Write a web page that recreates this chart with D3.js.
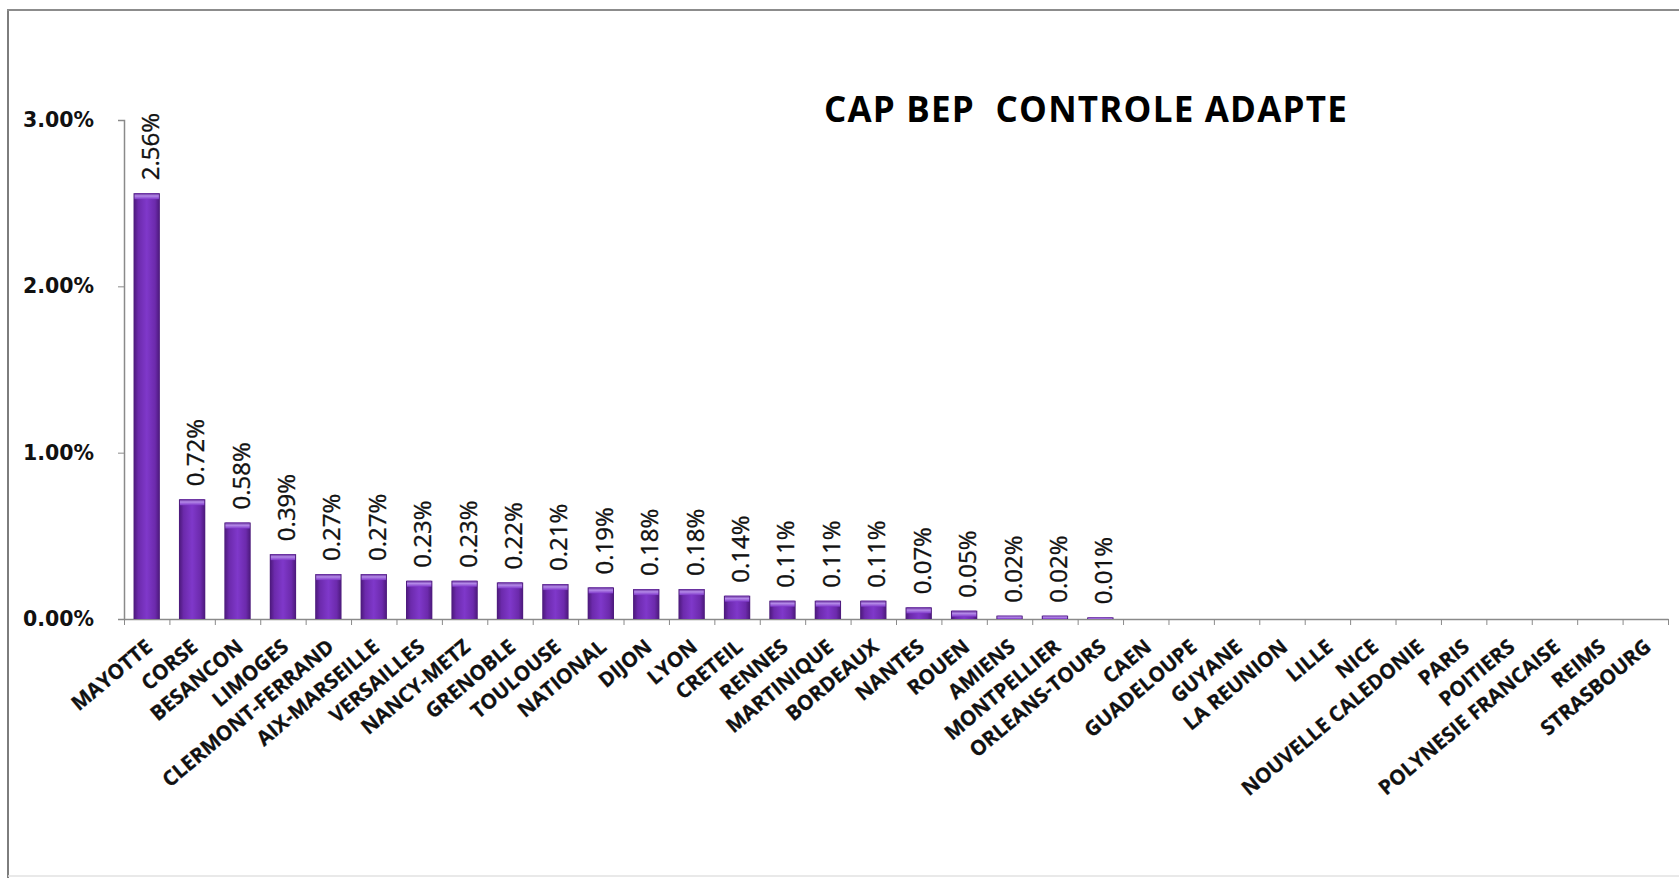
<!DOCTYPE html>
<html>
<head>
<meta charset="utf-8">
<script src="https://cdn.jsdelivr.net/npm/d3@7"></script>
<style>
  html, body { margin: 0; padding: 0; background: #fff; }
  svg { display: block; }
</style>
</head>
<body>
<script>
// Academies, in display order
const categories = [
  "MAYOTTE", "CORSE", "BESANCON", "LIMOGES", "CLERMONT-FERRAND", "AIX-MARSEILLE",
  "VERSAILLES", "NANCY-METZ", "GRENOBLE", "TOULOUSE", "NATIONAL", "DIJON", "LYON",
  "CRETEIL", "RENNES", "MARTINIQUE", "BORDEAUX", "NANTES", "ROUEN", "AMIENS",
  "MONTPELLIER", "ORLEANS-TOURS", "CAEN", "GUADELOUPE", "GUYANE", "LA REUNION",
  "LILLE", "NICE", "NOUVELLE CALEDONIE", "PARIS", "POITIERS", "POLYNESIE FRANCAISE",
  "REIMS", "STRASBOURG"
];

// Share of candidates (in %)
const values = [
  2.56, 0.72, 0.58, 0.39, 0.27, 0.27,
  0.23, 0.23, 0.22, 0.21, 0.19, 0.18, 0.18,
  0.14, 0.11, 0.11, 0.11, 0.07, 0.05, 0.02,
  0.02, 0.01, 0, 0, 0, 0,
  0, 0, 0, 0, 0, 0,
  0, 0
];

const yTicks = [0, 1, 2, 3];
const title = "CAP BEP  CONTROLE ADAPTE";

const W = 1679, H = 878;
const data = categories.map((c, i) => ({ cat: c, v: values[i] }));

const svg = d3.select("body").append("svg")
  .attr("width", W).attr("height", H);

// Bar fill
const defs = svg.append("defs");
const g1 = defs.append("linearGradient").attr("id", "barFill")
  .attr("x1", "0").attr("x2", "1").attr("y1", "0").attr("y2", "0");
g1.append("stop").attr("offset", "0%").attr("stop-color", "#4a1878");
g1.append("stop").attr("offset", "18%").attr("stop-color", "#6c2aac");
g1.append("stop").attr("offset", "50%").attr("stop-color", "#7f38ca");
g1.append("stop").attr("offset", "82%").attr("stop-color", "#6c2aac");
g1.append("stop").attr("offset", "100%").attr("stop-color", "#4a1878");
const g2 = defs.append("linearGradient").attr("id", "capFill")
  .attr("x1", "0").attr("x2", "0").attr("y1", "0").attr("y2", "1");
g2.append("stop").attr("offset", "0%").attr("stop-color", "#5a2090");
g2.append("stop").attr("offset", "45%").attr("stop-color", "#b48ae8");
g2.append("stop").attr("offset", "100%").attr("stop-color", "#7f38ca");

// Frame
svg.append("line").attr("x1", 8).attr("x2", 8).attr("y1", 10).attr("y2", H)
  .attr("stroke", "#7d7d7d").attr("stroke-width", 2);
svg.append("line").attr("x1", 7).attr("x2", W).attr("y1", 10).attr("y2", 10)
  .attr("stroke", "#8c8c8c").attr("stroke-width", 2);
svg.append("line").attr("x1", 8).attr("x2", W).attr("y1", 876).attr("y2", 876)
  .attr("stroke", "#e2e2e2").attr("stroke-width", 1.5);

// Scales
const x = d3.scaleBand().domain(categories).range([124, 1668])
  .paddingInner(0.42).paddingOuter(0.21);
const y = d3.scaleLinear().domain([0, 3]).range([619, 120]);
const xEdge = d3.scaleLinear().domain([0, categories.length]).range([124, 1668]);

// Title
svg.append("text")
  .attr("x", 1086).attr("y", 122)
  .attr("text-anchor", "middle")
  .style("white-space", "pre")
  .attr("font-family", "'Open Sans', sans-serif")
  .attr("font-weight", "bold")
  .attr("font-size", 35)
  .attr("letter-spacing", 1.2)
  .attr("fill", "#000")
  .text(title);

// Y axis
const yAxis = svg.append("g").attr("transform", "translate(124,0)")
  .call(d3.axisLeft(y).tickValues(yTicks).tickSize(6).tickPadding(24)
    .tickFormat(d => d3.format(".2f")(d) + "%"));
yAxis.select(".domain").attr("stroke", "#8a8a8a").attr("stroke-width", 1.5);
yAxis.selectAll(".tick line").attr("stroke", "#8a8a8a");
yAxis.selectAll(".tick text")
  .attr("font-family", "'DejaVu Sans', sans-serif")
  .attr("font-weight", "bold")
  .attr("font-size", 20.5)
  .attr("fill", "#111");

// X axis: boundary ticks
const xAxisTicks = svg.append("g").attr("transform", "translate(0,619)")
  .call(d3.axisBottom(xEdge).tickValues(d3.range(categories.length + 1))
    .tickSize(6).tickSizeOuter(0).tickFormat(""));
xAxisTicks.select(".domain").attr("stroke", "#8a8a8a").attr("stroke-width", 1.5);
xAxisTicks.selectAll(".tick line").attr("stroke", "#8a8a8a");

// X axis: category labels
const xAxis = svg.append("g").attr("transform", "translate(0,619)")
  .call(d3.axisBottom(x).tickSize(0).tickPadding(0));
xAxis.select(".domain").remove();
xAxis.selectAll(".tick text")
  .attr("text-anchor", "end")
  .attr("dy", null)
  .attr("y", 0)
  .attr("transform", "translate(7,30) rotate(-40)")
  .attr("font-family", "'Open Sans', sans-serif")
  .attr("font-weight", "bold")
  .attr("font-size", 20.5)
  .attr("fill", "#111")
  .attr("stroke", "#111")
  .attr("stroke-width", 0.3);

// Bars
const bars = svg.append("g");
bars.selectAll("rect.bar").data(data.filter(d => d.v > 0)).join("rect")
  .attr("class", "bar")
  .attr("x", d => x(d.cat))
  .attr("width", x.bandwidth())
  .attr("y", d => y(d.v))
  .attr("height", d => y(0) - y(d.v))
  .attr("fill", "url(#barFill)");
bars.selectAll("rect.cap").data(data.filter(d => d.v > 0)).join("rect")
  .attr("class", "cap")
  .attr("x", d => x(d.cat) + 1)
  .attr("width", x.bandwidth() - 2)
  .attr("y", d => y(d.v))
  .attr("height", d => Math.min(6, y(0) - y(d.v)))
  .attr("fill", "url(#capFill)");

// Value labels
svg.append("g").selectAll("text").data(data.filter(d => d.v > 0)).join("text")
  .attr("transform", d =>
    `translate(${x(d.cat) + x.bandwidth() / 2 + 12},${y(d.v) - 13}) rotate(-90)`)
  .attr("text-anchor", "start")
  .attr("font-family", "'Open Sans', sans-serif")
  .attr("font-size", 24)
  .attr("fill", "#111")
  .attr("stroke", "#111")
  .attr("stroke-width", 0.35)
  .text(d => d3.format(".2f")(d.v) + "%");
</script>
</body>
</html>
